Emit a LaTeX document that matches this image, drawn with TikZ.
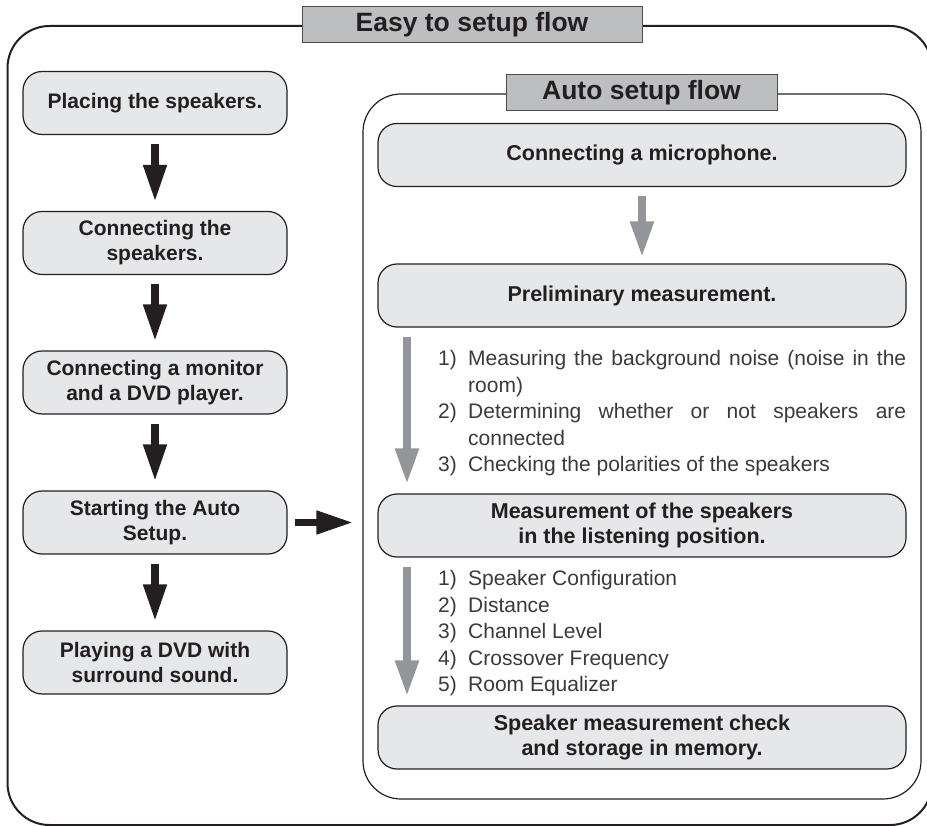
\documentclass[tikz,border=0pt]{standalone}
\usepackage{fontspec}
\setmainfont{Liberation Sans}
\usetikzlibrary{arrows.meta}
\definecolor{boxfill}{HTML}{E6E7E8}
\definecolor{titlefill}{HTML}{BCBEC0}
\definecolor{ink}{HTML}{231F20}
\definecolor{garrow}{HTML}{939598}
\definecolor{listink}{HTML}{3A3A3A}
\newcommand{\myitem}[1]{\par\noindent\hangindent=30pt\hangafter=1\makebox[30pt][l]{#1}}
\begin{document}
\begin{tikzpicture}[x=1pt,y=-1pt,
  stepbox/.style={draw=ink, line width=1.2pt, fill=boxfill, rounded corners=19pt,
    align=center, font=\fontsize{21}{25}\selectfont\bfseries, text=ink, inner sep=0pt},
  leftbox/.style={stepbox, minimum width=264pt, minimum height=63pt},
  rightbox/.style={stepbox, minimum width=528pt, minimum height=63pt,
    font=\fontsize{21.5}{25.5}\selectfont\bfseries},
  titlebox/.style={draw=ink!80, line width=1pt, fill=titlefill,
    font=\fontsize{26.5}{30}\selectfont\bfseries, text=ink, inner sep=0pt, minimum height=36pt},
  blkarrow/.style={draw=ink, line width=7.5pt, -{Triangle[length=37pt,width=22pt]},
    shorten <=9pt, shorten >=9pt},
  grarrow/.style={draw=garrow, line width=8pt, -{Triangle[length=36pt,width=22pt]},
    shorten <=9pt, shorten >=9pt},
  listtxt/.style={font=\fontsize{21}{26.5}\selectfont, text=listink, text width=468pt,
    align=justify, inner sep=0pt, anchor=north west}
]
\useasboundingbox (0,0) rectangle (927,826);
\clip (0,0) rectangle (927,826);

% outer frame
\draw[ink, line width=2pt, rounded corners=42pt] (7.5,26) rectangle (932,825);
\node[titlebox, minimum width=340pt] (t1) at (472,25) {Easy to setup flow};

% inner frame
\draw[ink, line width=1.2pt, rounded corners=38pt] (363,94) rectangle (921,799);
\node[titlebox, minimum width=271pt] (t2) at (641.5,93) {Auto setup flow};

% left column
\node[leftbox] (L1) at (155,103)   {Placing the speakers.};
\node[leftbox] (L2) at (155,243)   {Connecting the\\speakers.};
\node[leftbox] (L3) at (155,382.5) {Connecting a monitor\\and a DVD player.};
\node[leftbox] (L4) at (155,522.5) {Starting the Auto\\Setup.};
\node[leftbox] (L5) at (155,662.5) {Playing a DVD with\\surround sound.};

\draw[blkarrow] (L1) -- (L2);
\draw[blkarrow] (L2) -- (L3);
\draw[blkarrow] (L3) -- (L4);
\draw[blkarrow] (L4) -- (L5);

% right column
\node[rightbox] (C) at (642,155)   {Connecting a microphone.};
\node[rightbox] (P) at (642,295.5) {Preliminary measurement.};
\node[rightbox] (M) at (642,525.5) {Measurement of the speakers\\in the listening position.};
\node[rightbox] (S) at (642,737.5) {Speaker measurement check\\and storage in memory.};

\draw[blkarrow, shorten <=7pt, shorten >=24pt] (L4.east) -- (L4.east -| M.west);

\coordinate (gx) at (407,0);
\draw[grarrow, shorten >=6pt] (C) -- (P);
\draw[grarrow] (P.south -| gx) -- (M.north -| gx);
\draw[grarrow] (M.south -| gx) -- (S.north -| gx);

\node[listtxt] (list1) at (438,339) {%
\myitem{1)}Measuring the background noise (noise in the\linebreak room)
\myitem{2)}Determining whether or not speakers are\linebreak connected
\myitem{3)}Checking the polarities of the speakers\par};

\node[listtxt] (list2) at (438,559) {%
\myitem{1)}Speaker Configuration
\myitem{2)}Distance
\myitem{3)}Channel Level
\myitem{4)}Crossover Frequency
\myitem{5)}Room Equalizer\par};
\end{tikzpicture}
\end{document}
